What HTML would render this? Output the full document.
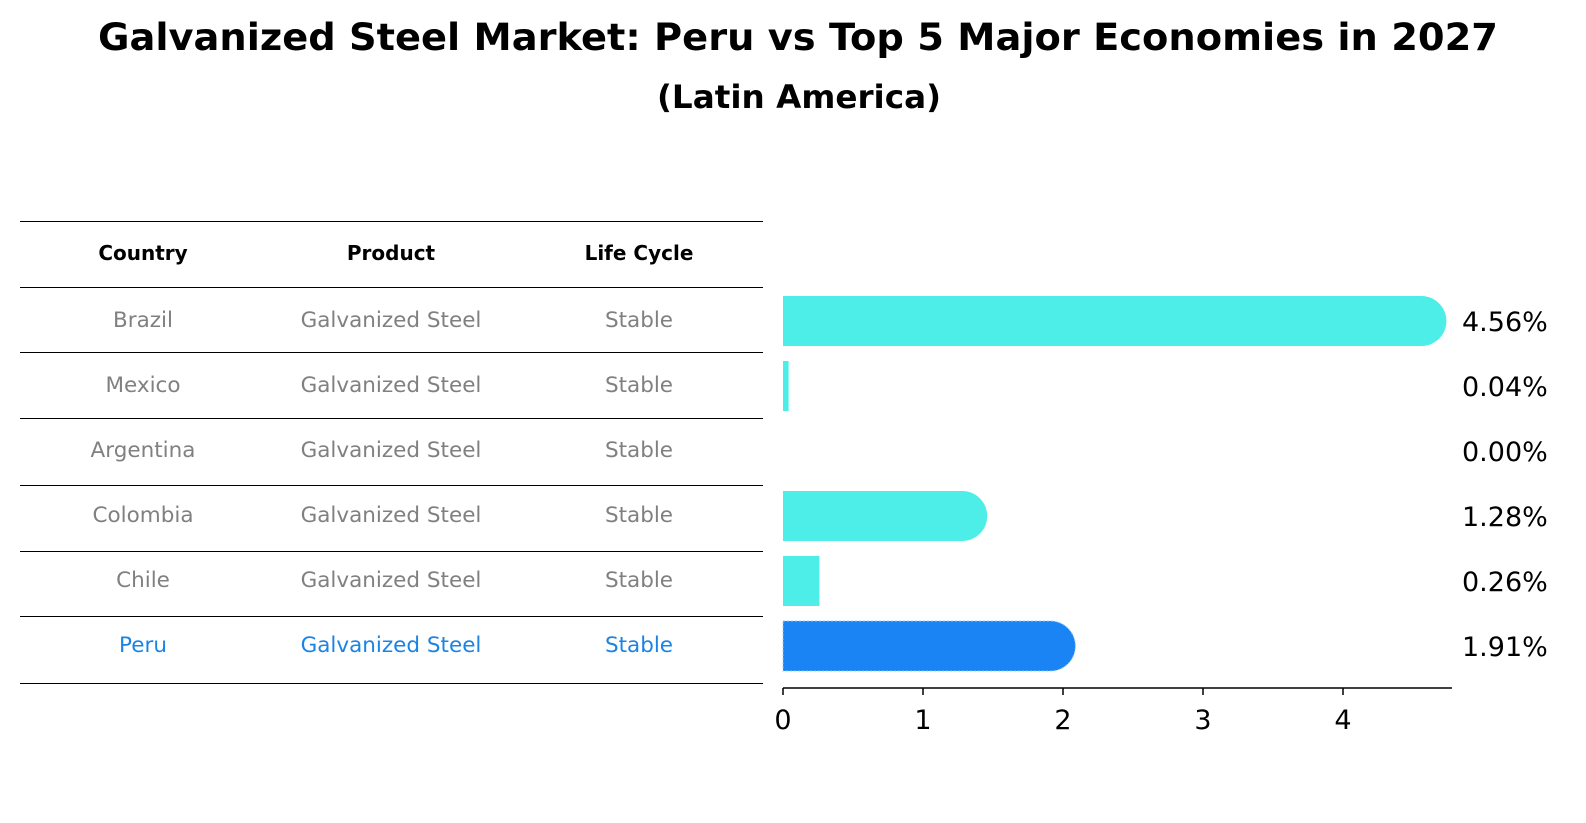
<!DOCTYPE html>
<html><head><meta charset="utf-8"><style>
body{margin:0;background:#fff;font-family:"Liberation Sans","DejaVu Sans",sans-serif;}
#wrap{position:relative;width:1586px;height:823px;overflow:hidden;}
</style></head><body>
<div id="wrap">
<svg id="svg" width="1586" height="823" xmlns="http://www.w3.org/2000/svg" font-family="DejaVu Sans, Liberation Sans, sans-serif">
<text x="798" y="50" text-anchor="middle" font-size="37" font-weight="bold" textLength="1400" lengthAdjust="spacingAndGlyphs">Galvanized Steel Market: Peru vs Top 5 Major Economies in 2027</text>
<text x="799" y="108" text-anchor="middle" font-size="32" font-weight="bold" textLength="284" lengthAdjust="spacingAndGlyphs">(Latin America)</text>
<g id="table"></g>
<g id="bars"></g>
</svg>
</div>
<script>
const countries=["Brazil","Mexico","Argentina","Colombia","Chile","Peru"];
const values=[4.56,0.04,0.00,1.28,0.26,1.91];
const valueLabels=["4.56%","0.04%","0.00%","1.28%","0.26%","1.91%"];
const product="Galvanized Steel";
const lifeCycle="Stable";
const ticks=[0,1,2,3,4];
const NS="http://www.w3.org/2000/svg";
function mk(tag,attrs,parent){const e=document.createElementNS(NS,tag);for(const k in attrs)e.setAttribute(k,attrs[k]);parent.appendChild(e);return e;}
const tbl=document.getElementById('table'),bars=document.getElementById('bars');
const x=v=>783+v*140;
const rowY=i=>321+i*65;
const lines=[221,287,352,418,485,551,616,683];
lines.forEach(y=>{const l=mk('line',{x1:20,x2:763,y1:y+0.5,y2:y+0.5,stroke:'#000','stroke-width':1},tbl);

});
const cols=[143,391,639];
["Country","Product","Life Cycle"].forEach((h,j)=>{const t=mk('text',{x:cols[j],y:260,'text-anchor':'middle','font-size':20,'font-weight':'bold'},tbl);t.textContent=h;

});
countries.forEach((c,i)=>{
  const col=c==="Peru"?"#1a84e6":"#808080";
  [c,product,lifeCycle].forEach((s,j)=>{const t=mk('text',{x:cols[j],y:rowY(i)+6,'text-anchor':'middle','font-size':21.5,fill:col},tbl);t.textContent=s;
  
  });
  const v=values[i];const top=rowY(i)-25;const fill=c==="Peru"?"#1a84f5":"#4dede8";
  if(v>0){
    let d;
    if(v>1){d=`M${x(0)},${top} H${x(v)} A25,25 0 0 1 ${x(v)},${top+50} H${x(0)} Z`;}
    else d=`M${x(0)},${top} H${x(v)} V${top+50} H${x(0)} Z`;
    const p=mk('path',{d:d,fill:fill},bars);
    if(c==="Peru"){p.setAttribute('stroke','#8fd0ff');p.setAttribute('stroke-dasharray','2,2');p.setAttribute('stroke-width','1');}
    
    
  }
  const lb=mk('text',{x:1462,y:rowY(i)+10,'font-size':27},bars);lb.textContent=valueLabels[i];
  
  
});
const ax=mk('line',{x1:783,x2:1452,y1:688,y2:688,stroke:'#000','stroke-width':1.5},bars);


ticks.forEach(t=>{const l=mk('line',{x1:x(t),x2:x(t),y1:688,y2:695,stroke:'#000','stroke-width':1.5},bars);


const tx=mk('text',{x:x(t),y:729,'text-anchor':'middle','font-size':27},bars);tx.textContent=t;

});
</script>
</body></html>
